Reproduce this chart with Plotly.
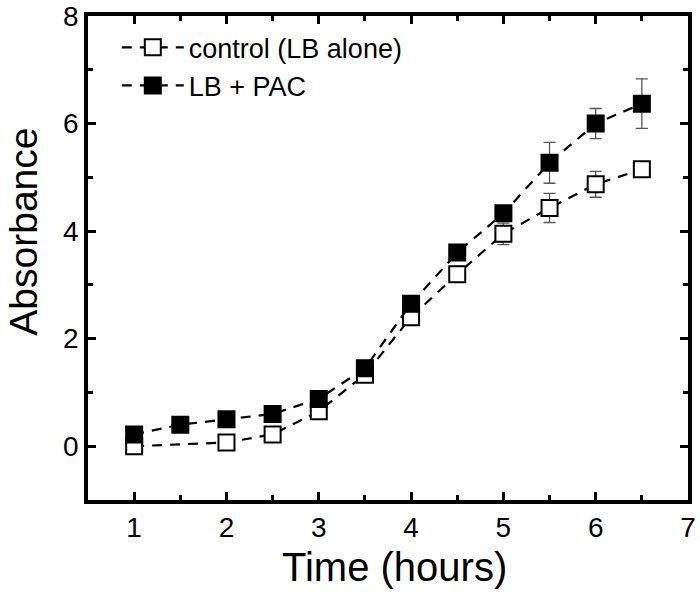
import plotly.graph_objects as go

time_control = [1, 2, 2.5, 3, 3.5, 4, 4.5, 5, 5.5, 6, 6.5]
abs_control = [0.0, 0.07, 0.22, 0.65, 1.33, 2.4, 3.2, 3.95, 4.43, 4.87, 5.15]
err_control = [0.1, 0.1, 0.1, 0.12, 0.05, 0.12, 0.15, 0.2, 0.27, 0.24, 0.05]

time_pac = [1, 1.5, 2, 2.5, 3, 3.5, 4, 4.5, 5, 5.5, 6, 6.5]
abs_pac = [0.22, 0.4, 0.5, 0.6, 0.88, 1.45, 2.65, 3.6, 4.33, 5.27, 6.0, 6.37]
err_pac = [0.05, 0.05, 0.05, 0.05, 0.05, 0.05, 0.1, 0.1, 0.1, 0.38, 0.28, 0.46]

x_ticks = [1, 2, 3, 4, 5, 6, 7]
y_ticks = [0, 2, 4, 6, 8]

FONT = "Liberation Sans, Arial"

fig = go.Figure()
fig.add_trace(go.Scatter(
    x=time_control, y=abs_control, name="control (LB alone)",
    mode="lines+markers",
    line=dict(color="black", width=2.2, dash="10px,8px"),
    marker=dict(symbol="square", size=16, color="white", line=dict(color="black", width=2)),
    error_y=dict(type="data", array=err_control, color="#555555", thickness=1.3, width=6),
))
fig.add_trace(go.Scatter(
    x=time_pac, y=abs_pac, name="LB + PAC",
    mode="lines+markers",
    line=dict(color="black", width=2.2, dash="10px,8px"),
    marker=dict(symbol="square", size=16, color="black", line=dict(color="black", width=2)),
    error_y=dict(type="data", array=err_pac, color="#555555", thickness=1.3, width=6),
))

axis_common = dict(
    showline=True, linecolor="black", linewidth=3.5, mirror="allticks",
    ticks="inside", ticklen=8, tickwidth=3, tickcolor="black",
    showgrid=False, zeroline=False, automargin=False,
    ticklabeloverflow="allow",
    tickfont=dict(family=FONT, size=28, color="black"),
)

fig.update_xaxes(
    range=[0.5, 7], tickvals=x_ticks, ticktext=[str(v) for v in x_ticks],
    minor=dict(ticks="inside", tickvals=[1.5, 2.5, 3.5, 4.5, 5.5, 6.5], ticklen=5, tickwidth=3, tickcolor="black"),
    **axis_common,
)
fig.update_yaxes(
    range=[-1, 8], tickvals=y_ticks, ticktext=[str(v) for v in y_ticks],
    minor=dict(ticks="inside", tickvals=[-1, 1, 3, 5, 7], ticklen=5, tickwidth=3, tickcolor="black"),
    **axis_common,
)

fig.add_annotation(text="Time (hours)", xref="paper", yref="paper", x=0.51, y=-0.138,
                   xanchor="center", yanchor="middle", showarrow=False,
                   font=dict(family=FONT, size=40, color="black"))
fig.add_annotation(text="Absorbance", xref="paper", yref="paper", x=-0.107, y=0.554,
                   xanchor="center", yanchor="middle", showarrow=False, textangle=-90,
                   font=dict(family=FONT, size=39, color="black"))

fig.update_layout(
    width=700, height=596,
    margin=dict(l=88, r=12, t=16, b=96),
    plot_bgcolor="white", paper_bgcolor="white",
    showlegend=True,
    legend=dict(x=0.048, y=0.985, xanchor="left", yanchor="top",
                bgcolor="rgba(0,0,0,0)",
                font=dict(family=FONT, size=27, color="black"),
                tracegroupgap=0, itemwidth=62),
)

fig.write_html("out.html", config={"displayModeBar": False},
               post_script="document.body.style.margin='0';")
